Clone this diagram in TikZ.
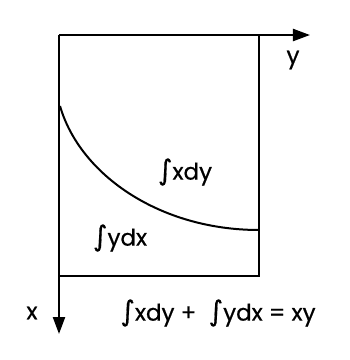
\documentclass[tikz,border=0pt]{standalone}
\usepackage{fontspec}
\setmainfont[FakeBold=0.6]{Poppins}
\newfontfamily\intfont[FakeBold=0.6]{DejaVu Sans}
\usetikzlibrary{arrows.meta}
\newcommand{\myint}{{\intfont\fontsize{28}{30}\selectfont ∫}}
\begin{document}
\begin{tikzpicture}[x=1pt,y=-1pt,
  lbl/.style={inner sep=0pt,font=\fontsize{23}{26}\selectfont},
  axis/.style={line width=2.2pt,-{Triangle[length=17pt,width=12pt]}},
  edge/.style={line width=2.2pt}]
\useasboundingbox (0,0) rectangle (350,360);
\coordinate (O) at (59,35);
\coordinate (Y) at (310,35);
\coordinate (X) at (59,334);
\coordinate (TR) at (259,35);
\coordinate (BR) at (259,276);
\coordinate (BL) at (59,276);
\coordinate (C0) at (60,106);
\coordinate (C1) at (259,230);
\draw[axis] (O) -- (Y);
\draw[axis] (O) -- (X);
\draw[edge] (TR) -- (BR) -- (BL);
\draw[line width=2pt] (C0) .. controls (80,175) and (160,230) .. (C1);
\node[lbl] (ly) at (293,60) {y};
\node[lbl] (lx) at (32,313) {x};
\node[lbl] (a1) at (185,172) {\myint xdy};
\node[lbl] (a2) at (120,238) {\myint ydx};
\node[lbl] (eq) at (218,313) {\myint xdy +\ \ \myint ydx = xy};
\end{tikzpicture}
\end{document}
